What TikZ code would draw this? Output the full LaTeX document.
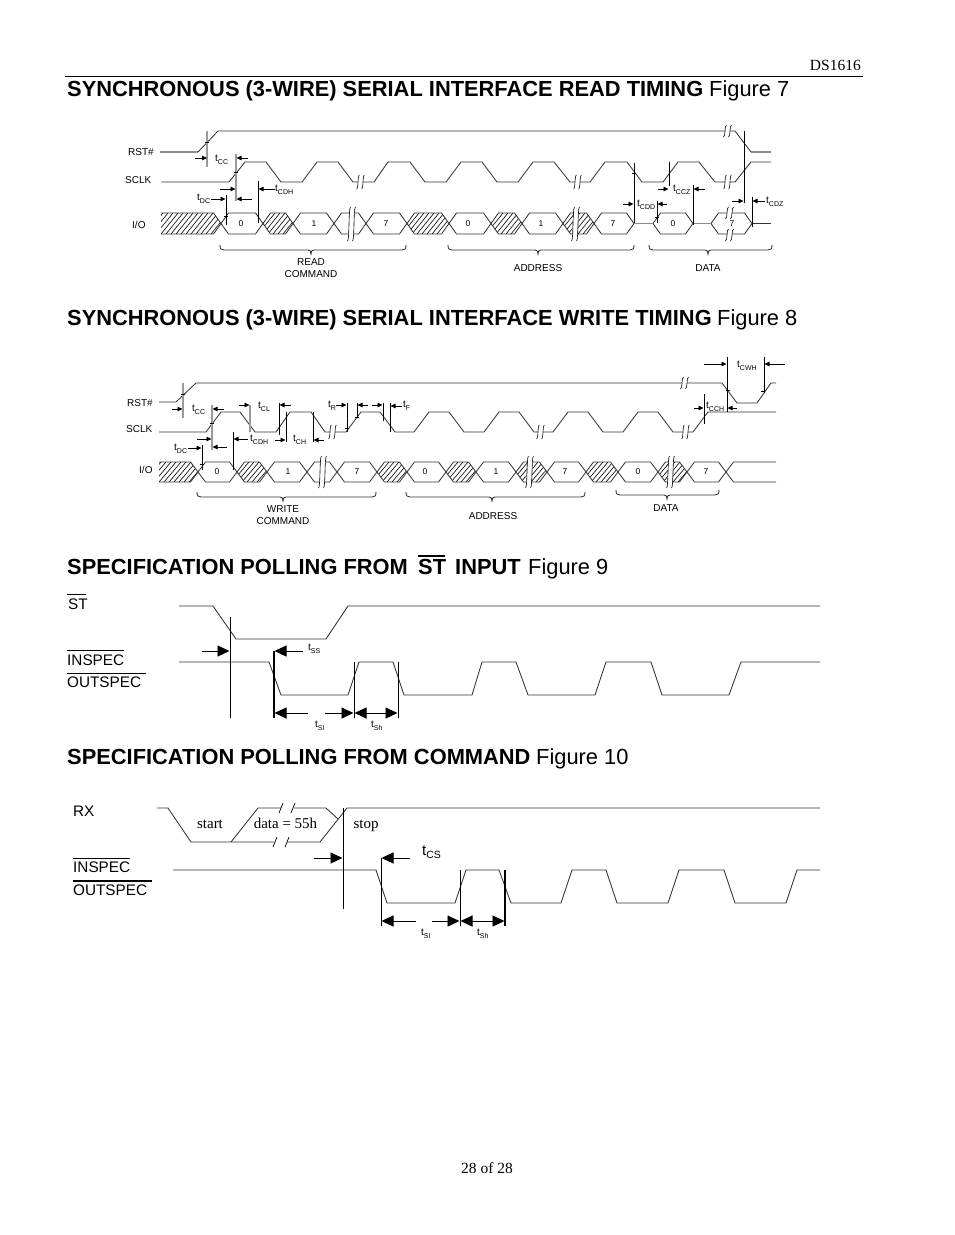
\documentclass[tikz,border=0pt]{standalone}
\usepackage{fontspec}
\setmainfont{Liberation Sans}
\newfontfamily\serifface{Liberation Serif}
\usetikzlibrary{arrows.meta}
\tikzset{
    x=1pt, y=-1pt,
    wave/.style={line width=0.85pt, black!80},
    pale/.style={line width=1.1pt, black!45},
    vbar/.style={line width=0.9pt, black},
    vpale/.style={line width=1.2pt, black!40},
    hatchline/.style={line width=0.6pt, black},
    tip/.style={line width=0.8pt, -{Triangle[length=5pt,width=4.5pt]}},
    bigtip/.style={line width=0.9pt, -{Triangle[length=12pt,width=11pt]}},
    signal/.style={inner sep=0pt, font=\fontsize{10}{10}\selectfont, anchor=west},
    bigsignal/.style={inner sep=0pt, font=\fontsize{15.3}{15.3}\selectfont, anchor=west},
    caption/.style={inner sep=0pt, font=\fontsize{10}{12}\selectfont, align=center},
    digit/.style={inner sep=0pt, font=\fontsize{8.5}{8.5}\selectfont},
    timing/.style={inner sep=0pt, font=\fontsize{10}{10}\selectfont, anchor=west},
    heading/.style={inner sep=0pt, font=\fontsize{21.85}{21.85}\selectfont\bfseries, anchor=base west},
    figno/.style={inner sep=0pt, font=\fontsize{21.85}{21.85}\selectfont, anchor=base west},
    serif/.style={inner sep=0pt, font=\fontsize{15}{15}\selectfont\serifface},
}
\newcommand{\tsub}[2]{#1\lower2.5pt\hbox{\fontsize{7}{7}\selectfont #2}}
\newcommand{\tsubbig}[2]{#1\lower2.5pt\hbox{\fontsize{10.5}{10.5}\selectfont #2}}
\newcommand{\busseg}[4]{
    \draw[wave] (#1,#3/2+#4/2) -- (#1+7.5,#3) -- (#2-7.5,#3) -- (#2,#3/2+#4/2)
        -- (#2-7.5,#4) -- (#1+7.5,#4) -- cycle;
}
\newcommand{\hatchseg}[4]{
    \begin{scope}
        \clip (#1,#3/2+#4/2) -- (#1+7.5,#3) -- (#2-7.5,#3) -- (#2,#3/2+#4/2)
            -- (#2-7.5,#4) -- (#1+7.5,#4) -- cycle;
        \foreach \hx in {-20,-15,...,60}
            \draw[hatchline] (#1+\hx,#4) -- (#1+\hx+17,#3);
    \end{scope}
    \busseg{#1}{#2}{#3}{#4}
}
\newcommand{\hatchopen}[4]{
    \begin{scope}
        \clip (#1,#3) -- (#2-7.5,#3) -- (#2,#3/2+#4/2) -- (#2-7.5,#4) -- (#1,#4) -- cycle;
        \foreach \hx in {-20,-15,...,70}
            \draw[hatchline] (#1+\hx,#4) -- (#1+\hx+17,#3);
    \end{scope}
    \draw[wave] (#1,#3) -- (#2-7.5,#3) -- (#2,#3/2+#4/2) -- (#2-7.5,#4) -- (#1,#4);
}
\newcommand{\cutmark}[3]{
    \fill[white] (#1-1.5,#2+#3) -- (#1+1.5,#2-#3) -- (#1+6.5,#2-#3) -- (#1+3.5,#2+#3) -- cycle;
    \draw[hatchline] (#1-1.5,#2+#3) .. controls (#1+0.5,#2+#3) and (#1-0.5,#2-#3) .. (#1+1.5,#2-#3);
    \draw[hatchline] (#1+3.5,#2+#3) .. controls (#1+5.5,#2+#3) and (#1+4.5,#2-#3) .. (#1+6.5,#2-#3);
}
\newcommand{\curly}[4]{
    \draw[wave] (#1,#4) .. controls (#1,#4+4) and (#1+1,#4+5) .. (#1+4,#4+5) -- (#3-3,#4+5)
        .. controls (#3-1,#4+5) and (#3,#4+6) .. (#3,#4+9)
        .. controls (#3,#4+6) and (#3+1,#4+5) .. (#3+3,#4+5) -- (#2-4,#4+5)
        .. controls (#2-1,#4+5) and (#2,#4+4) .. (#2,#4);
}

\begin{document}
\begin{tikzpicture}
    \useasboundingbox (0,0) rectangle (954,1235);
    \fill[white] (0,0) rectangle (954,1235);

    \node[serif, anchor=east, font=\fontsize{15.5}{15.5}\selectfont\serifface] (page) at (861,65) {DS1616};
    \coordinate (ruleL) at (65,76);
    \coordinate (ruleR) at (863,76);
    \draw[line width=1pt] (ruleL) -- (ruleR);
    \node[serif, font=\fontsize{15.5}{15.5}\selectfont\serifface] (foot) at (487,1168) {28 of 28};

    \node[heading] (titleA) at (67,96) {SYNCHRONOUS (3-WIRE) SERIAL INTERFACE READ TIMING};
    \node[figno] (figA) at (709,96) {Figure 7};
    \node[heading] (titleB) at (67,325) {SYNCHRONOUS (3-WIRE) SERIAL INTERFACE WRITE TIMING};
    \node[figno] (figB) at (717,325) {Figure 8};
    \node[heading] (titleC) at (67,574) {SPECIFICATION POLLING FROM};
    \node[heading] (stC) at (418,574) {ST};
    \node[heading] (inC) at (455,574) {INPUT};
    \node[figno] (figC) at (528,574) {Figure 9};
    \draw[line width=1.2pt] (418,556) -- (445,556);
    \node[heading] (titleD) at (67,764) {SPECIFICATION POLLING FROM COMMAND};
    \node[figno] (figD) at (536,764) {Figure 10};

    % figure 7
    \node[signal] (rstA) at (128,152) {RST\#};
    \node[signal] (clkA) at (125,180) {SCLK};
    \node[signal] (ioA) at (132,225) {I/O};

    \draw[pale] (160,152) -- (198,152);
    \draw[wave] (198,152) -- (218,131) -- (735,131) -- (751,152);
    \draw[pale] (751,152) -- (771,152);
    \cutmark{725}{131}{6}
    \draw[wave] (161,182) -- (229,182) -- (245,162) -- (266,162) -- (281,182) -- (302,182)
        -- (317,162) -- (338,162) -- (353,182) -- (374,182) -- (388,162) -- (410,162)
        -- (425,182) -- (446,182) -- (461,162) -- (482,162) -- (497,182) -- (518,182)
        -- (533,162) -- (554,162) -- (570,182) -- (590,182) -- (605,162) -- (627,162)
        -- (642,182) -- (663,182) -- (678,162) -- (699,162) -- (715,182) -- (735,182)
        -- (751,162) -- (771,162);
    \foreach \cx in {358,575,725} {\cutmark{\cx}{182}{7}}

    \hatchopen{161}{221}{213}{234}
    \foreach \xa/\xb in {263/293,407/449,491/522,563/594} {\hatchseg{\xa}{\xb}{213}{234}}
    \foreach \xa/\xb in {221/263,293/334,334/366,366/407,449/491,522/563,594/634,653/693,711/752} {\busseg{\xa}{\xb}{213}{234}}
    \draw[pale] (634,223.5) -- (653,223.5);
    \draw[pale] (693,223.5) -- (711,223.5);
    \draw[wave] (752,223.5) -- (771,223.5);
    \cutmark{349}{224}{17}
    \cutmark{573}{224}{17}
    \cutmark{727}{213}{6}
    \cutmark{727}{235}{6}
    \foreach \dx/\dtext [count=\di] in {241/0,314/1,386/7,468/0,541/1,613/7,673/0,732/7}
        \node[digit] (bitA\di) at (\dx,223.5) {\dtext};

    \draw[vpale] (207,131) -- (207,167);
    \draw[vpale] (236,154) -- (236,201);
    \draw[vbar] (258,181) -- (258,223);
    \draw[vbar] (226,195) -- (226,225);
    \draw[vbar] (634,163) -- (634,223);
    \draw[vbar] (657,201) -- (657,223);
    \draw[vbar] (669,162) -- (669,186);
    \draw[vbar] (693,185) -- (693,225);
    \draw[vbar] (744,131) -- (744,203);
    \draw[vbar] (752,197) -- (752,227);
    \foreach \tx/\ty in {207/142,236/172,226/216,634/173,657/217}
        \draw[line width=0.7pt] (\tx-2,\ty) -- (\tx+2,\ty);

    \draw[tip] (195,158) -- (207,158);
    \draw[tip] (248,158) -- (236.5,158);
    \draw[tip] (275,189) -- (258.5,189);
    \draw[tip] (220,189) -- (235.5,189);
    \draw[tip] (252,199) -- (236.5,199);
    \draw[tip] (211,199) -- (225.5,199);
    \draw[tip] (623,204) -- (633.5,204);
    \draw[tip] (667,204) -- (657.5,204);
    \draw[tip] (658,189) -- (668.5,189);
    \draw[tip] (705,189) -- (693.5,189);
    \draw[tip] (732,201) -- (743.5,201);
    \draw[tip] (765,201) -- (752.5,201);

    \node[timing] (tccA) at (215,160) {\tsub{t}{CC}};
    \node[timing] (tcdhA) at (275,190) {\tsub{t}{CDH}};
    \node[timing] (tdcA) at (197,199) {\tsub{t}{DC}};
    \node[timing] (tcddA) at (637,205) {\tsub{t}{CDD}};
    \node[timing] (tcczA) at (673,190) {\tsub{t}{CCZ}};
    \node[timing] (tcdzA) at (766,202) {\tsub{t}{CDZ}};

    \curly{220}{406}{311}{245}
    \curly{448}{634}{538}{245}
    \curly{649}{772}{708}{245}
    \node[caption] (capA1) at (311,268) {READ\\COMMAND};
    \node[caption] (capA2) at (538,268) {ADDRESS};
    \node[caption] (capA3) at (708,268) {DATA};

    % figure 8
    \node[signal] (rstB) at (127,403) {RST\#};
    \node[signal] (clkB) at (126,429) {SCLK};
    \node[signal] (ioB) at (139,470) {I/O};

    \draw[wave] (159,402) -- (176,402) -- (196,383) -- (722,383) -- (737,403) -- (757,403)
        -- (771,383) -- (776,383);
    \cutmark{682}{383}{6}
    \draw[wave] (159,432) -- (206,432) -- (221,412) -- (240,412) -- (255,432) -- (276,432)
        -- (290,412) -- (311,412) -- (325,432) -- (346,432) -- (361,412) -- (380,412)
        -- (395,432) -- (414,432) -- (429,412) -- (449,412) -- (464,432) -- (484,432)
        -- (499,412) -- (519,412) -- (534,432) -- (553,432) -- (568,412) -- (588,412)
        -- (603,432) -- (623,432) -- (638,412) -- (658,412) -- (673,432) -- (693,432)
        -- (708,412) -- (776,412);
    \foreach \cx in {330,538,683} {\cutmark{\cx}{432}{7}}

    \hatchopen{159}{198}{462}{482}
    \foreach \xa/\xb in {237/267,377/407,446/476,516/547,586/618,658/687} {\hatchseg{\xa}{\xb}{462}{482}}
    \foreach \xa/\xb in {198/237,267/307,307/337,337/377,407/446,476/516,547/586,618/658,687/726} {\busseg{\xa}{\xb}{462}{482}}
    \draw[wave] (776,482) -- (733.5,482) -- (726,472) -- (733.5,462) -- (776,462);
    \cutmark{320}{472}{16}
    \cutmark{527}{472}{16}
    \cutmark{668}{472}{16}
    \foreach \dx/\dtext [count=\di] in {217/0,288/1,357/7,425/0,496/1,565/7,638/0,706/7}
        \node[digit] (bitB\di) at (\dx,471.5) {\dtext};

    \draw[vpale] (183,383) -- (183,418);
    \draw[vpale] (212,405) -- (212,450);
    \draw[vpale] (250,405) -- (250,432);
    \draw[vbar] (279,403) -- (279,435);
    \draw[vbar] (286,412) -- (286,442);
    \draw[vbar] (313,412) -- (313,442);
    \draw[vbar] (202,445) -- (202,470);
    \draw[vbar] (233,432) -- (233,470);
    \draw[vbar] (347,403) -- (347,432);
    \draw[vbar] (357,403) -- (357,418);
    \draw[vbar] (383,403) -- (383,421);
    \draw[vbar] (390,403) -- (390,432);
    \draw[vbar] (704,394) -- (704,424);
    \draw[vbar] (727,357) -- (727,412);
    \draw[vbar] (764,357) -- (764,393);
    \foreach \tx/\ty in {183/394,212/423,202/464,347/428,357/417,728/390,763/391}
        \draw[line width=0.7pt] (\tx-2,\ty) -- (\tx+2,\ty);

    \draw[tip] (172,409) -- (182.5,409);
    \draw[tip] (224,409) -- (212.5,409);
    \draw[tip] (239,405) -- (249.5,405);
    \draw[tip] (291,405) -- (279.5,405);
    \draw[tip] (275,440) -- (285.5,440);
    \draw[tip] (324,440) -- (313.5,440);
    \draw[tip] (197,439) -- (211.5,439);
    \draw[tip] (227,447) -- (212.5,447);
    \draw[tip] (188,448) -- (201.5,448);
    \draw[tip] (248,439) -- (233.5,439);
    \draw[tip] (336,405) -- (346.5,405);
    \draw[tip] (368,405) -- (357.5,405);
    \draw[tip] (372,405) -- (382.5,405);
    \draw[tip] (402,406) -- (390.5,406);
    \draw[tip] (694,408) -- (703.5,408);
    \draw[tip] (737,408) -- (727.5,408);
    \draw[tip] (704,364) -- (726.5,364);
    \draw[tip] (785,364) -- (764.5,364);

    \node[timing] (tccB) at (192,410) {\tsub{t}{CC}};
    \node[timing] (tclB) at (258,407) {\tsub{t}{CL}};
    \node[timing] (tchB) at (293,440) {\tsub{t}{CH}};
    \node[timing] (tdcB) at (174,449) {\tsub{t}{DC}};
    \node[timing] (tcdhB) at (250,440) {\tsub{t}{CDH}};
    \node[timing] (trB) at (328,406) {\tsub{t}{R}};
    \node[timing] (tfB) at (403,406) {\tsub{t}{F}};
    \node[timing] (tcchB) at (706,407) {\tsub{t}{CCH}};
    \node[timing] (tcwhB) at (737,366) {\tsub{t}{CWH}};

    \curly{197}{376}{283}{492}
    \curly{406}{585}{492}{492}
    \curly{616}{719}{667}{490}
    \node[caption] (capB1) at (283,515) {WRITE\\COMMAND};
    \node[caption] (capB2) at (493,516) {ADDRESS};
    \node[caption] (capB3) at (666,508) {DATA};

    % figure 9
    \node[bigsignal] (stSig) at (68,604) {ST};
    \node[bigsignal] (inSig) at (67,660) {INSPEC};
    \node[bigsignal] (outSig) at (67,682) {OUTSPEC};
    \draw[line width=0.9pt] (67,594) -- (86,594);
    \draw[line width=0.9pt] (67,650.5) -- (124,650.5);
    \draw[line width=0.9pt] (67,673.5) -- (146,673.5);

    \draw[wave] (179,606) -- (213,606) -- (236,639) -- (326,639) -- (348,606) -- (820,606);
    \draw[wave] (179,662) -- (269,662) -- (281,695) -- (348,695) -- (359,662) -- (393,662)
        -- (404,695) -- (472,695) -- (482,662) -- (516,662) -- (528,695) -- (595,695)
        -- (606,662) -- (651,662) -- (662,695) -- (729,695) -- (741,662) -- (820,662);

    \draw[vbar] (230,617) -- (230,718);
    \draw[line width=1.2pt] (274,651) -- (274,718);
    \draw[vbar] (354,662) -- (354,718);
    \draw[vbar] (398,662) -- (398,718);

    \draw[bigtip] (202,651) -- (229.5,651);
    \draw[bigtip] (303,651) -- (274.5,651);
    \draw[bigtip] (308,713) -- (274.5,713);
    \draw[bigtip] (325,713) -- (353.5,713);
    \draw[bigtip] (376,713) -- (354.5,713);
    \draw[bigtip] (376,713) -- (397.5,713);

    \node[timing] (tssC) at (308,649) {\tsub{t}{SS}};
    \node[timing] (tsiC) at (315,726) {\tsub{t}{SI}};
    \node[timing] (tshC) at (371,726) {\tsub{t}{Sh}};

    % figure 10
    \node[bigsignal] (rxSig) at (73,811) {RX};
    \node[bigsignal] (inSigB) at (73,867) {INSPEC};
    \node[bigsignal] (outSigB) at (73,890) {OUTSPEC};
    \draw[line width=0.9pt] (73,858) -- (130,858);
    \draw[line width=1.2pt] (73,881) -- (152,881);

    \draw[wave] (157,808) -- (168,808) -- (191,842) -- (274,842);
    \draw[wave] (287,842) -- (320,842) -- (347,808) -- (820,808);
    \draw[wave] (231,842) -- (258,808) -- (281,808);
    \draw[wave] (294,808) -- (326,808) -- (338,819);
    \foreach \sx/\sy in {281/808,293/808,275/842,287/842}
        \draw[line width=0.7pt] (\sx-2,\sy+5) -- (\sx+2,\sy-5);

    \node[serif, anchor=base] (startD) at (210,828) {start};
    \node[serif, anchor=base] (dataD) at (285.5,828) {data = 55h};
    \node[serif, anchor=base] (stopD) at (366,828) {stop};

    \draw[wave] (173,870) -- (376,870) -- (387,903) -- (455,903) -- (466,870) -- (499,870)
        -- (511,903) -- (561,903) -- (572,870) -- (606,870) -- (617,903) -- (668,903)
        -- (679,870) -- (724,870) -- (735,903) -- (786,903) -- (797,870) -- (820,870);

    \draw[vbar] (343,808) -- (343,909);
    \draw[vbar] (381,858) -- (381,926);
    \draw[vbar] (460,870) -- (460,926);
    \draw[line width=1.2pt] (505,870) -- (505,926);

    \draw[bigtip] (314,858) -- (342.5,858);
    \draw[bigtip] (410,858) -- (381.5,858);
    \draw[bigtip] (416,921) -- (381.5,921);
    \draw[bigtip] (432,921) -- (459.5,921);
    \draw[bigtip] (482,921) -- (460.5,921);
    \draw[bigtip] (482,921) -- (504.5,921);

    \node[timing, font=\fontsize{15}{15}\selectfont] (tcsD) at (422,852) {\tsubbig{t}{CS}};
    \node[timing] (tsiD) at (421,934) {\tsub{t}{SI}};
    \node[timing] (tshD) at (477,934) {\tsub{t}{Sh}};
\end{tikzpicture}
\end{document}
